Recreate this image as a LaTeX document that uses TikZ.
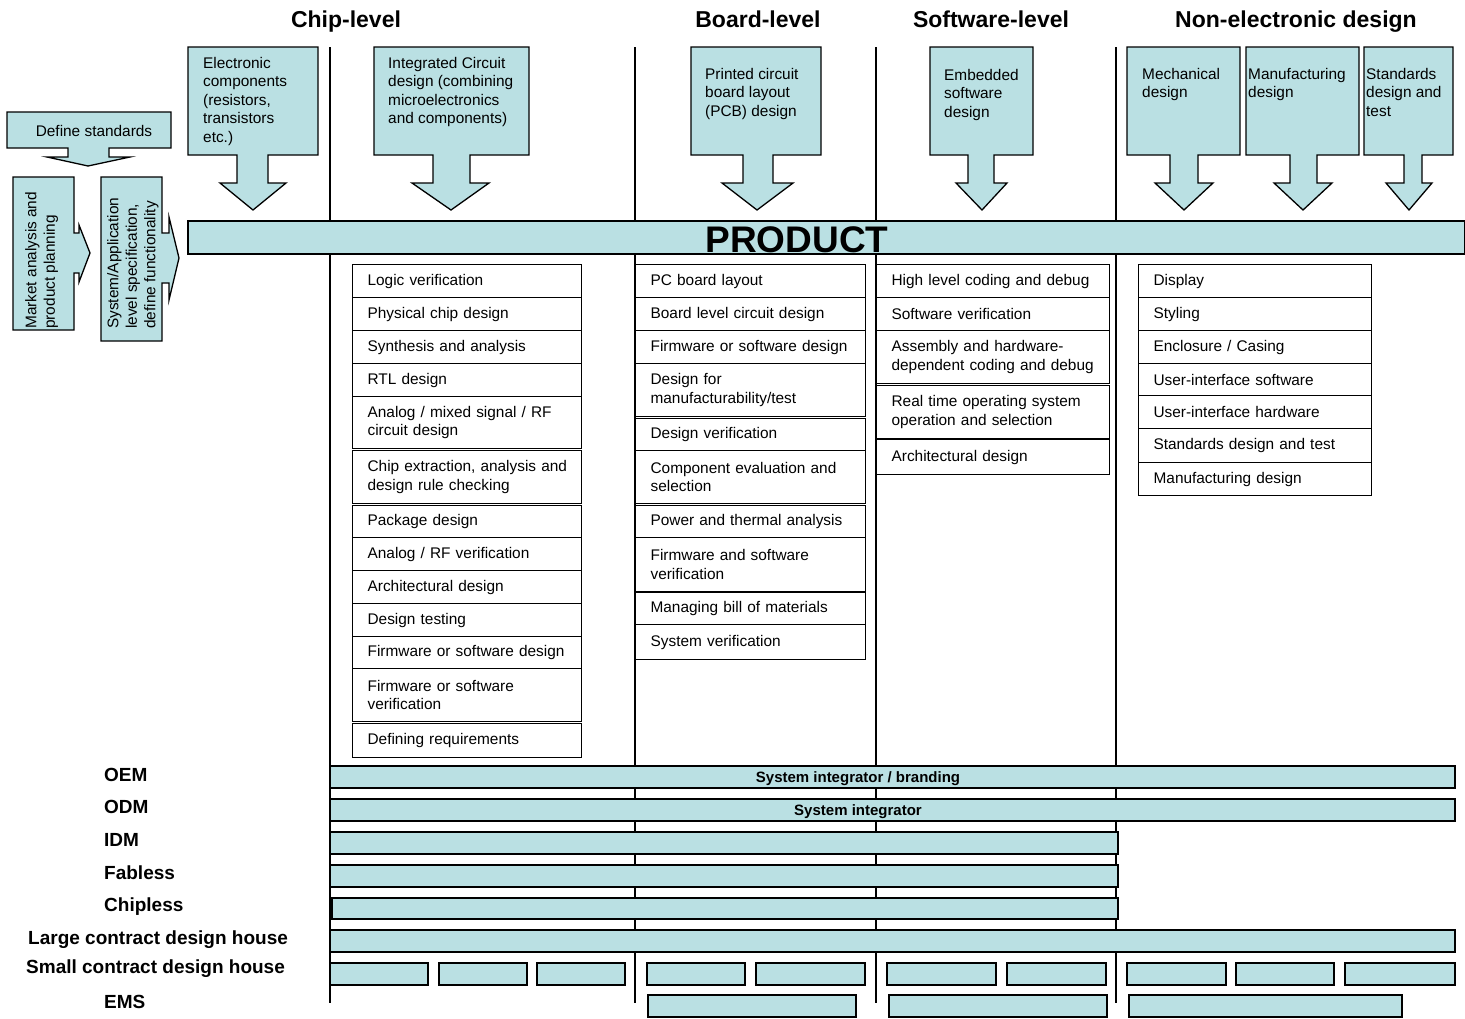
\documentclass[tikz,border=0pt]{standalone}
\usepackage{fontspec}
\setmainfont{Liberation Sans}
\usepackage{tikz}
\usetikzlibrary{positioning}
\definecolor{paleteal}{RGB}{186,224,227}

\begin{document}
\begin{tikzpicture}[x=1pt, y=-1pt,
  tealbox/.style={fill=paleteal, draw=black, line width=1.3pt},
  colline/.style={line width=1.4pt},
  levelhead/.style={font=\fontsize{23}{26}\selectfont\bfseries, anchor=base, inner sep=0pt},
  boxtext/.style={font=\fontsize{15.4}{18.5}\selectfont, align=left, anchor=north west, inner sep=0pt},
  listbox/.style={draw, line width=1.2pt, anchor=north west, align=left, inner xsep=0pt, inner ysep=0pt,
    font=\fontsize{15.4}{18.5}\selectfont, execute at begin node={\leftskip=15pt}},
  chipbox/.style={listbox, text width=229pt},
  brdbox/.style={listbox, text width=230pt},
  swbox/.style={listbox, text width=233pt},
  nebox/.style={listbox, text width=233pt},
  rolelabel/.style={font=\fontsize{19}{21}\selectfont\bfseries, anchor=base west, inner sep=0pt},
  bartext/.style={font=\fontsize{15}{17}\selectfont\bfseries, anchor=base, inner sep=0pt}]

\useasboundingbox (0,0) rectangle (1465,1018);

% Column separators
\draw[colline] (330,47) -- (330,1003);
\draw[colline] (635,47) -- (635,1003);
\draw[colline] (876,47) -- (876,1003);
\draw[colline] (1116,47) -- (1116,1003);

% Column headings
\node[levelhead] (chiplvl) at (346,27) {Chip-level};
\node[levelhead] (brdlvl) at (758,27) {Board-level};
\node[levelhead] (swlvl) at (991,27) {Software-level};
\node[levelhead] (nelvl) at (1296,27) {Non-electronic design};

% Left side: standards and planning
\draw[tealbox] (7,112) -- (171,112) -- (171,148) -- (109,148) -- (109,157) -- (130,157) -- (88,166) -- (47,157) -- (68,157) -- (68,148) -- (7,148) -- cycle;
\node[boxtext, anchor=center] (stds) at (94,131) {Define standards};
\draw[tealbox] (13,177) -- (74,177) -- (74,233) -- (79,233) -- (79,225) -- (90,253) -- (79,282) -- (79,273) -- (74,273) -- (74,330) -- (13,330) -- cycle;
\node[boxtext, rotate=90] (market) at (25,329) {Market analysis and\\product planning};
\draw[tealbox] (101,177) -- (162,177) -- (162,233) -- (169,233) -- (169,217) -- (179,258) -- (169,300) -- (169,283) -- (162,283) -- (162,341) -- (101,341) -- cycle;
\node[boxtext, rotate=90] (sysspec) at (107,329) {System/Application\\level specification,\\define functionality};

% Top inputs
\draw[tealbox] (188,47) -- (318,47) -- (318,155) -- (268,155) -- (268,183) -- (286,183) -- (253,210) -- (220,183) -- (237,183) -- (237,155) -- (188,155) -- cycle;
\node[boxtext] (elec) at (203,57) {Electronic\\components\\(resistors,\\transistors\\etc.)};
\draw[tealbox] (374,47) -- (529,47) -- (529,155) -- (470,155) -- (470,183) -- (489,183) -- (451,210) -- (412,183) -- (433,183) -- (433,155) -- (374,155) -- cycle;
\node[boxtext] (icdes) at (388,57) {Integrated Circuit\\design (combining\\microelectronics\\and components)};
\draw[tealbox] (691,47) -- (821,47) -- (821,155) -- (773,155) -- (773,183) -- (793,183) -- (757,210) -- (722,183) -- (743,183) -- (743,155) -- (691,155) -- cycle;
\node[boxtext] (pcb) at (705,68) {Printed circuit\\board layout\\(PCB) design};
\draw[tealbox] (930,47) -- (1033,47) -- (1033,155) -- (994,155) -- (994,183) -- (1007,183) -- (982,210) -- (956,183) -- (968,183) -- (968,155) -- (930,155) -- cycle;
\node[boxtext] (embsw) at (944,69) {Embedded\\software\\design};
\draw[tealbox] (1127,47) -- (1240,47) -- (1240,155) -- (1198,155) -- (1198,183) -- (1213,183) -- (1184,210) -- (1155,183) -- (1170,183) -- (1170,155) -- (1127,155) -- cycle;
\node[boxtext] (mech) at (1142,68) {Mechanical\\design};
\draw[tealbox] (1246,47) -- (1359,47) -- (1359,155) -- (1317,155) -- (1317,183) -- (1332,183) -- (1303,210) -- (1274,183) -- (1290,183) -- (1290,155) -- (1246,155) -- cycle;
\node[boxtext] (manuf) at (1248,68) {Manufacturing\\design};
\draw[tealbox] (1364,47) -- (1453,47) -- (1453,155) -- (1422,155) -- (1422,183) -- (1432,183) -- (1409,210) -- (1386,183) -- (1404,183) -- (1404,155) -- (1364,155) -- cycle;
\node[boxtext] (stdtest) at (1366,68) {Standards\\design and\\test};

% Product bar
\draw[tealbox] (188,221) rectangle (1465,254);
\node[font=\fontsize{37}{40}\selectfont\bfseries, anchor=base, inner sep=0pt] (product) at (797,252) {PRODUCT};

% Chip-level tasks
\node[chipbox, minimum height=33pt] (chip1) at (352,264) {Logic verification};
\node[chipbox, minimum height=33pt] (chip2) at (352,297) {Physical chip design};
\node[chipbox, minimum height=33pt] (chip3) at (352,330) {Synthesis and analysis};
\node[chipbox, minimum height=33pt] (chip4) at (352,363) {RTL design};
\node[chipbox, minimum height=52pt] (chip5) at (352,396) {Analog / mixed signal / RF\\circuit design};
\node[chipbox, minimum height=53pt] (chip6) at (352,450) {Chip extraction, analysis and\\design rule checking};
\node[chipbox, minimum height=32pt] (chip7) at (352,505) {Package design};
\node[chipbox, minimum height=33pt] (chip8) at (352,537) {Analog / RF verification};
\node[chipbox, minimum height=33pt] (chip9) at (352,570) {Architectural design};
\node[chipbox, minimum height=33pt] (chip10) at (352,603) {Design testing};
\node[chipbox, minimum height=32pt] (chip11) at (352,636) {Firmware or software design};
\node[chipbox, minimum height=53pt] (chip12) at (352,668) {Firmware or software\\verification};
\node[chipbox, minimum height=34pt] (chip13) at (352,723) {Defining requirements};

% Board-level tasks
\node[brdbox, minimum height=33pt] (brd1) at (635,264) {PC board layout};
\node[brdbox, minimum height=33pt] (brd2) at (635,297) {Board level circuit design};
\node[brdbox, minimum height=33pt] (brd3) at (635,330) {Firmware or software design};
\node[brdbox, minimum height=53pt] (brd4) at (635,363) {Design for\\manufacturability/test};
\node[brdbox, minimum height=32pt] (brd5) at (635,418) {Design verification};
\node[brdbox, minimum height=53pt] (brd6) at (635,450) {Component evaluation and\\selection};
\node[brdbox, minimum height=32pt] (brd7) at (635,505) {Power and thermal analysis};
\node[brdbox, minimum height=54pt] (brd8) at (635,537) {Firmware and software\\verification};
\node[brdbox, minimum height=32pt] (brd9) at (635,592) {Managing bill of materials};
\node[brdbox, minimum height=35pt] (brd10) at (635,624) {System verification};

% Software-level tasks
\node[swbox, minimum height=33pt] (sw1) at (876,264) {High level coding and debug};
\node[swbox, minimum height=33pt] (sw2) at (876,297) {Software verification};
\node[swbox, minimum height=53pt] (sw3) at (876,330) {Assembly and hardware-\\dependent coding and debug};
\node[swbox, minimum height=53pt] (sw4) at (876,385) {Real time operating system\\operation and selection};
\node[swbox, minimum height=35pt] (sw5) at (876,439) {Architectural design};

% Non-electronic tasks
\node[nebox, minimum height=33pt] (ne1) at (1138,264) {Display};
\node[nebox, minimum height=33pt] (ne2) at (1138,297) {Styling};
\node[nebox, minimum height=33pt] (ne3) at (1138,330) {Enclosure / Casing};
\node[nebox, minimum height=32pt] (ne4) at (1138,363) {User-interface software};
\node[nebox, minimum height=33pt] (ne5) at (1138,395) {User-interface hardware};
\node[nebox, minimum height=34pt] (ne6) at (1138,428) {Standards design and test};
\node[nebox, minimum height=33pt] (ne7) at (1138,462) {Manufacturing design};

% Company types
\node[rolelabel] (oem) at (104,781) {OEM};
\node[rolelabel] (odm) at (104,813) {ODM};
\node[rolelabel] (idm) at (104,846) {IDM};
\node[rolelabel] (fabless) at (104,879) {Fabless};
\node[rolelabel] (chipless) at (104,911) {Chipless};
\node[rolelabel] (largecdh) at (28,944) {Large contract design house};
\node[rolelabel] (smallcdh) at (26,973) {Small contract design house};
\node[rolelabel] (ems) at (104,1008) {EMS};

% Coverage bars
\draw[tealbox] (330,766) rectangle (1455,788);
\node[bartext] (oembar) at (858,782) {System integrator / branding};
\draw[tealbox] (330,799) rectangle (1455,821);
\node[bartext] (odmbar) at (858,815) {System integrator};
\draw[tealbox] (330,832) rectangle (1118,854);
\draw[tealbox] (330,865) rectangle (1118,887);
\draw[tealbox] (332,898) rectangle (1118,919);
\draw[tealbox] (330,930) rectangle (1455,952);
\draw[tealbox] (330,963) rectangle (428,985) (439,963) rectangle (527,985) (537,963) rectangle (625,985)
  (647,963) rectangle (745,985) (756,963) rectangle (865,985)
  (887,963) rectangle (996,985) (1007,963) rectangle (1106,985)
  (1127,963) rectangle (1226,985) (1236,963) rectangle (1334,985) (1345,963) rectangle (1455,985);
\draw[tealbox] (648,995) rectangle (856,1017) (889,995) rectangle (1107,1017) (1129,995) rectangle (1402,1017);

\end{tikzpicture}
\end{document}
